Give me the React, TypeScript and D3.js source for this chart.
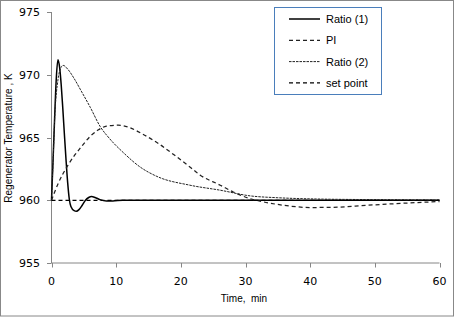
import React from "react";
import * as d3 from "d3";

const xTicks = [0, 10, 20, 30, 40, 50, 60];
const yTicks = [955, 960, 965, 970, 975];

const ratio1T = [0, 0.25, 0.5, 0.75, 1.0, 1.25, 1.5, 1.75, 2.0, 2.25, 2.5, 2.75, 3.0, 3.5, 3.85, 4.25, 4.75, 5.25, 5.75, 6.2, 6.75, 7.5, 8.5, 9.5, 11, 15, 30, 45, 60];
const ratio1V = [960, 963.3, 966.8, 969.8, 971.2, 970.6, 969.2, 967.3, 965.2, 963.2, 961.4, 960.1, 959.5, 959.17, 959.12, 959.25, 959.6, 960.0, 960.22, 960.3, 960.22, 960.05, 959.95, 959.95, 960, 960, 960, 960, 960];

const piT = [0, 1, 2.55, 4.6, 6, 7.2, 8.5, 10.3, 12, 14, 16.3, 19, 21.4, 23, 26.1, 28.1, 30.7, 32.5, 35.9, 40, 43.6, 48.8, 54, 60];
const piV = [960, 961.3, 962.8, 964.25, 965.1, 965.6, 965.9, 965.98, 965.8, 965.3, 964.6, 963.6, 962.65, 962.0, 961.2, 960.66, 960.13, 959.9, 959.6, 959.42, 959.44, 959.6, 959.75, 959.9];

const ratio2T = [0, 0.25, 0.5, 1.0, 1.4, 1.8, 2.5, 3.5, 4.6, 6, 7.5, 9, 11.1, 13.7, 16.3, 21.4, 26.1, 30.7, 35, 41, 50, 60];
const ratio2V = [960, 963.2, 966.6, 969.6, 970.5, 970.75, 970.45, 969.7, 968.7, 967.4, 965.9, 964.9, 963.8, 962.65, 961.9, 961.2, 960.8, 960.35, 960.2, 960.1, 960.05, 960.02];

const setT = [0, 60];
const setV = [960, 960];

const legendLabels = ["Ratio (1)", "PI", "Ratio (2)", "set point"];

export default function App() {
  const W = 455, H = 317;
  const x = d3.scaleLinear().domain([0, 60]).range([51.5, 439.5]);
  const y = d3.scaleLinear().domain([955, 975]).range([263, 12]);
  const mk = (ts: number[], vs: number[]) =>
    d3.line<number>().x((_, i) => x(ts[i])).y((v) => y(v)).curve(d3.curveMonotoneX)(vs) || "";

  const series = [
    { d: mk(ratio1T, ratio1V), stroke: "#000", w: 1.5, dash: "" },
    { d: mk(piT, piV), stroke: "#222", w: 1.25, dash: "4,3" },
    { d: mk(ratio2T, ratio2V), stroke: "#222", w: 1, dash: "2.5,1" },
    { d: mk(setT, setV), stroke: "#000", w: 1.25, dash: "4,3" },
  ];

  const tickFont = "DejaVu Sans, Verdana, sans-serif";
  const labFont = "Liberation Sans, Arial, sans-serif";

  return (
    <svg width={W} height={H} style={{ position: "absolute", left: 0, top: 0 }}>
      <rect x={0} y={0} width={W} height={H} fill="#fff" />
      <rect x={0.5} y={0.5} width={453} height={315.5} fill="none" stroke="#888" />
      <line x1={x(0)} x2={x(0)} y1={y(975)} y2={y(955)} stroke="#868686" />
      <line x1={x(0)} x2={x(60)} y1={y(955)} y2={y(955)} stroke="#868686" />
      {yTicks.map((t) => (
        <g key={"y" + t}>
          <line x1={x(0) - 4.5} x2={x(0)} y1={Math.round(y(t)) + 0.5} y2={Math.round(y(t)) + 0.5} stroke="#868686" />
          <text x={40} y={y(t) + 4} textAnchor="end" fontFamily={tickFont} fontSize={11} fill="#000">{t}</text>
        </g>
      ))}
      {xTicks.map((t) => (
        <g key={"x" + t}>
          <line x1={Math.round(x(t)) + 0.5} x2={Math.round(x(t)) + 0.5} y1={y(955)} y2={y(955) + 4.5} stroke="#868686" />
          <text x={x(t)} y={285} textAnchor="middle" fontFamily={tickFont} fontSize={11} fill="#000">{t}</text>
        </g>
      ))}
      <text x={244} y={302} textAnchor="middle" fontFamily={labFont} fontSize={10} fill="#000" xmlSpace="preserve">Time,  min</text>
      <text transform="translate(11.5,138) rotate(-90)" textAnchor="middle" fontFamily={labFont} fontSize={10} fill="#000">Regenerator Temperature , K</text>
      {series.map((s, i) => (
        <path key={i} d={s.d} fill="none" stroke={s.stroke} strokeWidth={s.w} strokeDasharray={s.dash || undefined} />
      ))}
      <rect x={274.5} y={7.5} width={107} height={87} fill="#fff" stroke="#4a7ebb" />
      {legendLabels.map((l, i) => {
        const cy = 19 + i * 21.3;
        const s = series[i];
        return (
          <g key={l}>
            <line x1={289} x2={320} y1={cy} y2={cy} stroke={s.stroke} strokeWidth={s.w} strokeDasharray={s.dash || undefined} />
            <text x={326} y={cy + 4} fontFamily={labFont} fontSize={11} fill="#000">{l}</text>
          </g>
        );
      })}
    </svg>
  );
}
